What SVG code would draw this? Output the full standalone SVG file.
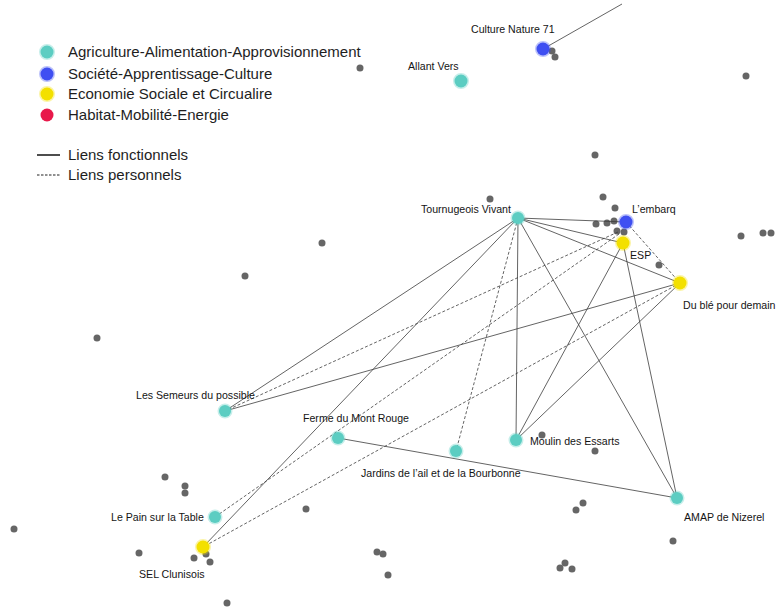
<svg xmlns="http://www.w3.org/2000/svg" width="777" height="609" viewBox="0 0 777 609">
<style>
.lbl{font-family:"Liberation Sans",Arial,sans-serif;font-size:10.6px;fill:#141414}
.leg{font-family:"Liberation Sans",Arial,sans-serif;font-size:15px;fill:#1e1e1e}
.e{fill:none;stroke:#3c3c3c;stroke-width:0.8;marker-end:url(#ah)}
.d{stroke-dasharray:3 2}
.g{fill:#666}
.agr{fill:#5ccdc2;stroke:#5ccdc2;stroke-opacity:0.35;stroke-width:3}
.soc{fill:#3f4ff2;stroke:#3f4ff2;stroke-opacity:0.35;stroke-width:3}
.eco{fill:#f3e000;stroke:#f3e000;stroke-opacity:0.35;stroke-width:3}
.hab{fill:#e8194a}
</style>
<defs>
<marker id="ah" viewBox="0 0 10 10" refX="10" refY="5" markerWidth="5" markerHeight="5" orient="auto" markerUnits="userSpaceOnUse">
<path d="M0,1 L10,5 L0,9" fill="none" stroke="#222" stroke-width="1.5"/>
</marker>
</defs>
<rect width="777" height="609" fill="#fff"/>

<g id="legend">
<circle cx="47" cy="52" r="6.5" class="agr"/>
<circle cx="47" cy="74" r="6.5" class="soc"/>
<circle cx="47" cy="94" r="6.5" class="eco"/>
<circle cx="47" cy="115" r="6.5" class="hab"/>
<text x="68" y="57" class="leg">Agriculture-Alimentation-Approvisionnement</text>
<text x="68" y="79" class="leg">Société-Apprentissage-Culture</text>
<text x="68" y="99" class="leg">Economie Sociale et Circualire</text>
<text x="68" y="120" class="leg">Habitat-Mobilité-Energie</text>
<line x1="37" y1="155" x2="60" y2="155" stroke="#222" stroke-width="1.6"/>
<line x1="37" y1="175" x2="60" y2="175" stroke="#222" stroke-width="1.2" stroke-dasharray="2.5 1.5"/>
<text x="68" y="160" class="leg">Liens fonctionnels</text>
<text x="68" y="180" class="leg">Liens personnels</text>
</g>

<g id="isolated">
<circle cx="360" cy="68" r="3.5" class="g"/>
<circle cx="746" cy="76" r="3.5" class="g"/>
<circle cx="552" cy="51" r="3.5" class="g"/>
<circle cx="555" cy="57" r="3.5" class="g"/>
<circle cx="595" cy="155" r="3.5" class="g"/>
<circle cx="490" cy="199" r="3.5" class="g"/>
<circle cx="603" cy="197" r="3.5" class="g"/>
<circle cx="615" cy="208" r="3.5" class="g"/>
<circle cx="596" cy="224" r="3.5" class="g"/>
<circle cx="607" cy="223" r="3.5" class="g"/>
<circle cx="614" cy="221" r="3.5" class="g"/>
<circle cx="617" cy="231" r="3.5" class="g"/>
<circle cx="624" cy="232" r="3.5" class="g"/>
<circle cx="659" cy="265" r="3.5" class="g"/>
<circle cx="741" cy="236" r="3.5" class="g"/>
<circle cx="763" cy="233" r="3.5" class="g"/>
<circle cx="771" cy="233" r="3.5" class="g"/>
<circle cx="322" cy="243" r="3.5" class="g"/>
<circle cx="245" cy="276" r="3.5" class="g"/>
<circle cx="97" cy="338" r="3.5" class="g"/>
<circle cx="542" cy="435" r="3.5" class="g"/>
<circle cx="595" cy="451" r="3.5" class="g"/>
<circle cx="165" cy="477" r="3.5" class="g"/>
<circle cx="185" cy="486" r="3.5" class="g"/>
<circle cx="185" cy="493" r="3.5" class="g"/>
<circle cx="306" cy="509" r="3.5" class="g"/>
<circle cx="576" cy="510" r="3.5" class="g"/>
<circle cx="583" cy="503" r="3.5" class="g"/>
<circle cx="14" cy="529" r="3.5" class="g"/>
<circle cx="673" cy="541" r="3.5" class="g"/>
<circle cx="139" cy="553" r="3.5" class="g"/>
<circle cx="194" cy="558" r="3.5" class="g"/>
<circle cx="206" cy="554" r="3.5" class="g"/>
<circle cx="210" cy="562" r="3.5" class="g"/>
<circle cx="377" cy="552" r="3.5" class="g"/>
<circle cx="383" cy="554" r="3.5" class="g"/>
<circle cx="388" cy="575" r="3.5" class="g"/>
<circle cx="560" cy="568" r="3.5" class="g"/>
<circle cx="565" cy="563" r="3.5" class="g"/>
<circle cx="572" cy="569" r="3.5" class="g"/>
<circle cx="227" cy="603" r="3.5" class="g"/>
</g>

<g id="connectors">
<line class="e" x1="543" y1="49" x2="622" y2="4" style="marker-end:none"/>
<line class="e" x1="518" y1="218" x2="626" y2="222"/>
<line class="e" x1="518" y1="218" x2="623" y2="243"/>
<line class="e" x1="518" y1="218" x2="680" y2="283"/>
<line class="e" x1="518" y1="218" x2="225" y2="411"/>
<line class="e" x1="518" y1="218" x2="203" y2="547"/>
<line class="e" x1="518" y1="218" x2="516" y2="440"/>
<line class="e" x1="518" y1="218" x2="677" y2="498"/>
<line class="e d" x1="518" y1="218" x2="456" y2="451"/>
<line class="e d" x1="626" y1="222" x2="680" y2="283"/>
<line class="e d" x1="618" y1="232" x2="225" y2="411"/>
<line class="e d" x1="619" y1="234" x2="215" y2="517"/>
<line class="e d" x1="680" y1="283" x2="203" y2="547"/>
<line class="e" x1="225" y1="411" x2="680" y2="283"/>
<line class="e" x1="623" y1="243" x2="516" y2="440"/>
<line class="e" x1="680" y1="283" x2="516" y2="440"/>
<line class="e" x1="623" y1="243" x2="677" y2="498"/>
<line class="e" x1="338" y1="438" x2="677" y2="498"/>
</g>

<g id="culture-nature-71"><circle cx="543" cy="49" r="6.5" class="soc"/><text x="471" y="33" class="lbl">Culture Nature 71</text></g>
<g id="allant-vers"><circle cx="461" cy="81" r="6.5" class="agr"/><text x="408" y="70" class="lbl">Allant Vers</text></g>
<g id="tournugeois-vivant"><circle cx="518" cy="218" r="6" class="agr"/><text x="421" y="213" class="lbl">Tournugeois Vivant</text></g>
<g id="lembarq"><circle cx="626" cy="222" r="6.5" class="soc"/><text x="632" y="213" class="lbl">L’embarq</text></g>
<g id="esp"><circle cx="623" cy="243" r="6.5" class="eco"/><text x="630" y="259" class="lbl">ESP</text></g>
<g id="du-ble-pour-demain"><circle cx="680" cy="283" r="6.5" class="eco"/><text x="683" y="309" class="lbl">Du blé pour demain</text></g>
<g id="les-semeurs-du-possible"><circle cx="225" cy="411" r="6" class="agr"/><text x="136" y="399" class="lbl">Les Semeurs du possible</text></g>
<g id="ferme-du-mont-rouge"><circle cx="338" cy="438" r="6" class="agr"/><text x="303" y="422" class="lbl">Ferme du Mont Rouge</text></g>
<g id="jardins-de-lail"><circle cx="456" cy="451" r="6" class="agr"/><text x="361" y="477" class="lbl">Jardins de l’ail et de la Bourbonne</text></g>
<g id="moulin-des-essarts"><circle cx="516" cy="440" r="6" class="agr"/><text x="530" y="445" class="lbl">Moulin des Essarts</text></g>
<g id="amap-de-nizerel"><circle cx="677" cy="498" r="6" class="agr"/><text x="684" y="521" class="lbl">AMAP de Nizerel</text></g>
<g id="le-pain-sur-la-table"><circle cx="215" cy="517" r="6" class="agr"/><text x="111" y="521" class="lbl">Le Pain sur la Table</text></g>
<g id="sel-clunisois"><circle cx="203" cy="547" r="6.5" class="eco"/><text x="139" y="578" class="lbl">SEL Clunisois</text></g>
</svg>
